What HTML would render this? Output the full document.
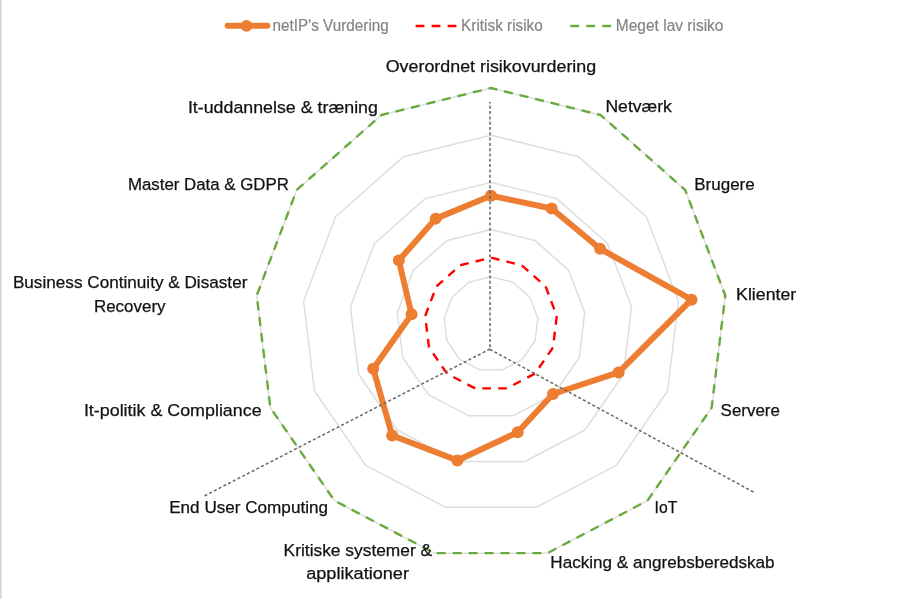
<!DOCTYPE html>
<html lang="da">
<head>
<meta charset="utf-8">
<title>Risikovurdering</title>
<style>
html,body{margin:0;padding:0;background:#fff;}
body{width:900px;height:600px;overflow:hidden;}
svg{display:block;}
text{font-family:"Liberation Sans",sans-serif;}
.lab{fill:#111;font-size:17.1px;stroke:#111;stroke-width:0.25px;}
.leg{fill:#858585;font-size:15.8px;stroke:#858585;stroke-width:0.2px;}
</style>
</head>
<body>
<svg width="900" height="600" viewBox="0 0 900 600">
<rect x="0" y="0" width="900" height="600" fill="#ffffff"/>
<rect x="0" y="0" width="1.6" height="598.5" fill="#d4d4d4"/>

<g fill="none" stroke="#dedede" stroke-width="1.5" stroke-linejoin="round">
<polygon points="491.00,276.80 512.93,282.21 529.84,297.19 537.86,318.31 535.13,340.74 522.30,359.33 502.30,369.83 479.70,369.83 459.70,359.33 446.87,340.74 444.14,318.31 452.16,297.19 469.07,282.21"/>
<polygon points="491.00,229.60 534.87,240.41 568.69,270.37 584.71,312.62 579.27,357.47 553.60,394.66 513.59,415.66 468.41,415.66 428.40,394.66 402.73,357.47 397.29,312.62 413.31,270.37 447.13,240.41"/>
<polygon points="491.00,182.40 556.80,198.62 607.53,243.56 631.57,306.93 623.40,374.21 584.90,429.99 524.89,461.49 457.11,461.49 397.10,429.99 358.60,374.21 350.43,306.93 374.47,243.56 425.20,198.62"/>
<polygon points="491.00,135.20 578.74,156.83 646.38,216.75 678.42,301.24 667.53,390.95 616.20,465.32 536.18,507.31 445.82,507.31 365.80,465.32 314.47,390.95 303.58,301.24 335.62,216.75 403.26,156.83"/>
<polygon points="491.00,88.00 600.67,115.03 685.22,189.94 725.28,295.55 711.66,407.69 647.50,500.65 547.48,553.14 434.52,553.14 334.50,500.65 270.34,407.69 256.72,295.55 296.78,189.94 381.33,115.03"/>
</g>
<polygon points="491.00,88.00 600.67,115.03 685.22,189.94 725.28,295.55 711.66,407.69 647.50,500.65 547.48,553.14 434.52,553.14 334.50,500.65 270.34,407.69 256.72,295.55 296.78,189.94 381.33,115.03" fill="none" stroke="#69aa3f" stroke-width="2.4" stroke-dasharray="9 6.96" stroke-dashoffset="2.5" stroke-linejoin="round"/>
<polygon points="491.00,257.70 521.81,265.29 545.56,286.34 556.82,316.01 552.99,347.51 534.97,373.63 506.87,388.37 475.13,388.37 447.03,373.63 429.01,347.51 425.18,316.01 436.44,286.34 460.19,265.29" fill="none" stroke="#ff0000" stroke-width="2.4" stroke-dasharray="8.7 7.168" stroke-dashoffset="0" stroke-linejoin="round"/>
<polygon points="491.00,195.70 551.65,208.45 600.05,248.73 691.53,299.65 618.63,372.40 553.00,393.99 517.68,432.26 457.38,460.42 392.19,435.53 373.19,368.68 411.58,314.36 398.83,260.38 435.70,218.63" fill="none" stroke="#ed7d31" stroke-width="6" stroke-linejoin="round" stroke-linecap="round"/>
<g fill="#ed7d31">
<circle cx="491.00" cy="195.70" r="6"/>
<circle cx="551.65" cy="208.45" r="6"/>
<circle cx="600.05" cy="248.73" r="6"/>
<circle cx="691.53" cy="299.65" r="6"/>
<circle cx="618.63" cy="372.40" r="6"/>
<circle cx="553.00" cy="393.99" r="6"/>
<circle cx="517.68" cy="432.26" r="6"/>
<circle cx="457.38" cy="460.42" r="6"/>
<circle cx="392.19" cy="435.53" r="6"/>
<circle cx="373.19" cy="368.68" r="6"/>
<circle cx="411.58" cy="314.36" r="6"/>
<circle cx="398.83" cy="260.38" r="6"/>
<circle cx="435.70" cy="218.63" r="6"/>
</g>
<g fill="none" stroke="#666" stroke-width="1.5" stroke-dasharray="3 2.3">
<line x1="490" y1="102" x2="490" y2="349" stroke-dashoffset="1.5"/>
<line x1="490" y1="349" x2="202.7" y2="496.8"/>
<line x1="489.8" y1="349.3" x2="755.6" y2="493.2"/>
</g>
<line x1="227.6" y1="25.8" x2="267.4" y2="25.8" stroke="#ed7d31" stroke-width="6" stroke-linecap="round"/>
<circle cx="246.5" cy="25.8" r="5.9" fill="#ed7d31"/>
<line x1="415.6" y1="26.0" x2="457" y2="26.0" stroke="#ff0000" stroke-width="2.4" stroke-dasharray="8.8 7.2"/>
<line x1="570.3" y1="26.0" x2="612" y2="26.0" stroke="#69aa3f" stroke-width="2.5" stroke-dasharray="8.8 7.2"/>
<text class="leg" x="272.6" y="30.9" textLength="116.2" lengthAdjust="spacingAndGlyphs">netIP's Vurdering</text>
<text class="leg" x="461.1" y="30.9" textLength="81.7" lengthAdjust="spacingAndGlyphs">Kritisk risiko</text>
<text class="leg" x="615.8" y="30.9" textLength="107.7" lengthAdjust="spacingAndGlyphs">Meget lav risiko</text>
<text class="lab" x="385.7" y="71.5" textLength="210.5" lengthAdjust="spacingAndGlyphs">Overordnet risikovurdering</text>
<text class="lab" x="605.4" y="112.4" textLength="66.5" lengthAdjust="spacingAndGlyphs">Netværk</text>
<text class="lab" x="694.3" y="189.5" textLength="60.4" lengthAdjust="spacingAndGlyphs">Brugere</text>
<text class="lab" x="736.1" y="299.9" textLength="60.1" lengthAdjust="spacingAndGlyphs">Klienter</text>
<text class="lab" x="720.6" y="416.2" textLength="59.3" lengthAdjust="spacingAndGlyphs">Servere</text>
<text class="lab" x="654.6" y="512.9" textLength="22.7" lengthAdjust="spacingAndGlyphs">IoT</text>
<text class="lab" x="550.3" y="567.9" textLength="224.3" lengthAdjust="spacingAndGlyphs">Hacking &amp; angrebsberedskab</text>
<text class="lab" x="283.6" y="556.2" textLength="148.6" lengthAdjust="spacingAndGlyphs">Kritiske systemer &amp;</text>
<text class="lab" x="306.2" y="579.2" textLength="102.8" lengthAdjust="spacingAndGlyphs">applikationer</text>
<text class="lab" x="169.2" y="513.4" textLength="158.8" lengthAdjust="spacingAndGlyphs">End User Computing</text>
<text class="lab" x="83.9" y="416.2" textLength="177.7" lengthAdjust="spacingAndGlyphs">It-politik &amp; Compliance</text>
<text class="lab" x="12.9" y="288.4" textLength="234.5" lengthAdjust="spacingAndGlyphs">Business Continuity &amp; Disaster</text>
<text class="lab" x="93.9" y="311.9" textLength="71.7" lengthAdjust="spacingAndGlyphs">Recovery</text>
<text class="lab" x="127.9" y="190.2" textLength="161.0" lengthAdjust="spacingAndGlyphs">Master Data &amp; GDPR</text>
<text class="lab" x="187.9" y="112.5" textLength="190.0" lengthAdjust="spacingAndGlyphs">It-uddannelse &amp; træning</text>
</svg>
</body>
</html>
